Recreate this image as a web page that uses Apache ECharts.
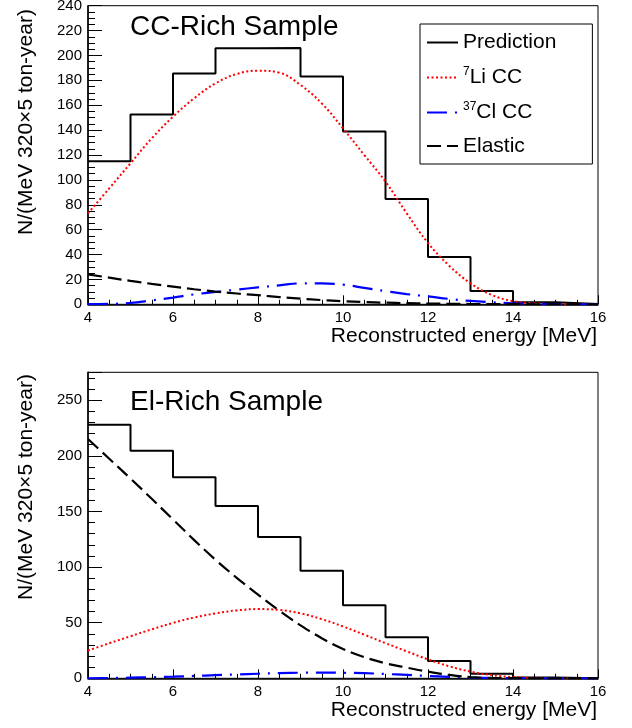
<!DOCTYPE html>
<html><head><meta charset="utf-8">
<script src="https://cdn.jsdelivr.net/npm/echarts@6/dist/echarts.min.js"></script>
<style>html,body{margin:0;padding:0;background:#fff}#c{width:632px;height:728px}</style>
</head><body><div id="c"></div>
<script>
// ---- data ----
const binEdges = [4, 5, 6, 7, 8, 9, 10, 11, 12, 13, 14, 15, 16];
const ccPrediction = [115.0, 152.5, 185.5, 205.7, 206.0, 183.0, 138.8, 84.7, 38.0, 10.7, 1.6, 0.2];
const elPrediction = [227.8, 204.5, 180.6, 154.8, 126.9, 96.7, 65.6, 36.8, 15.6, 4.2, 0.8, 0.1];

const energy = [4, 4.5, 5, 5.5, 6, 6.5, 7, 7.5, 8, 8.5, 9, 9.5, 10, 10.5, 11, 11.5, 12, 12.5, 13, 13.5, 14, 14.5, 15, 15.5, 16];
const ccLi = [73.1, 93.2, 113.3, 133.4, 150.8, 165.6, 177.6, 185.1, 187.8, 186.2, 176.3, 161.5, 141.4, 120.0, 98.6, 73.1, 49.3, 31.0, 16.9, 7.5, 2.5, 0.8, 0.3, 0.1, 0.0];
const ccCl = [0.1, 0.3, 1.1, 3.2, 5.4, 8.0, 9.9, 11.8, 13.6, 15.2, 16.8, 16.8, 15.8, 13.2, 10.6, 8.2, 6.4, 4.3, 2.7, 1.6, 0.8, 0.3, 0.1, 0.0, 0.0];
const ccElastic = [24.1, 21.4, 18.8, 16.4, 14.2, 12.1, 10.2, 8.7, 7.3, 5.8, 4.5, 3.4, 2.5, 1.8, 1.3, 0.9, 0.6, 0.4, 0.25, 0.15, 0.1, 0.05, 0.03, 0.01, 0.0];
const elLi = [25.0, 31.5, 37.8, 44.0, 49.8, 54.6, 58.3, 61.0, 62.2, 61.4, 58.4, 53.2, 46.6, 39.2, 31.6, 24.2, 17.0, 10.8, 6.0, 2.9, 1.1, 0.4, 0.15, 0.05, 0.0];
const elCl = [0.0, 0.2, 0.6, 1.0, 1.5, 2.1, 2.8, 3.5, 4.1, 4.6, 5.0, 5.1, 5.0, 4.6, 3.9, 3.0, 2.1, 1.3, 0.7, 0.3, 0.1, 0.0, 0.0, 0.0, 0.0];
const elElastic = [215.0, 197.3, 179.5, 161.3, 142.8, 124.2, 106.5, 90.3, 75.2, 60.8, 47.6, 36.0, 26.4, 19.0, 13.5, 9.6, 6.0, 3.0, 1.0, 0.3, 0.1, 0.0, 0.0, 0.0, 0.0];

const seriesNames = ['Prediction', '7Li CC', '37Cl CC', 'Elastic'];
const panelTitles = ['CC-Rich Sample', 'El-Rich Sample'];
const xTitle = 'Reconstructed energy [MeV]';
const yTitle = 'N/(MeV 320\u00d75 ton-year)';

// ---- build ----
const FONT = '"Liberation Sans", Arial, sans-serif';
function hist(vals) {
  const d = vals.map((v, i) => [binEdges[i], v]);
  d.push([binEdges[vals.length], vals[vals.length - 1]]);
  return d;
}
function curve(vals) { return vals.map((v, i) => [energy[i], v]); }

const styles = {
  'Prediction': { color: '#000000', width: 2, type: 'solid' },
  '7Li CC': { color: '#ff0000', width: 2, type: [2, 2.5] },
  '37Cl CC': { color: '#0000ff', width: 2.2, type: [20, 8, 2, 8] },
  'Elastic': { color: '#000000', width: 2.2, type: [14, 6] }
};

function mkSeries(g, pred, li, cl, el) {
  const arr = [
    { name: 'Prediction', data: hist(pred), step: 'end' },
    { name: '7Li CC', data: curve(li), smooth: 0.4 },
    { name: '37Cl CC', data: curve(cl), smooth: 0.4 },
    { name: 'Elastic', data: curve(el), smooth: 0.4 }
  ];
  return arr.map(s => Object.assign({
    type: 'line', xAxisIndex: g, yAxisIndex: g, symbol: 'none', showSymbol: false,
    lineStyle: styles[s.name], itemStyle: { color: styles[s.name].color },
    silent: true, animation: false
  }, s));
}

function mkX(g) {
  return {
    type: 'value', gridIndex: g, min: 4, max: 16, interval: 2,
    axisLine: { onZero: false, lineStyle: { color: '#000', width: 1.5 } },
    axisTick: { inside: true, length: 9, lineStyle: { color: '#000', width: 1 } },
    minorTick: { show: true, splitNumber: 4, length: 4.5, lineStyle: { color: '#000', width: 1 } },
    axisLabel: { margin: 6, fontSize: 15, color: '#000', fontFamily: FONT },
    splitLine: { show: false }
  };
}
function mkY(g, max, interval, minorSplit) {
  return {
    type: 'value', gridIndex: g, min: 0, max: max, interval: interval,
    axisLine: { show: true, onZero: false, lineStyle: { color: '#000', width: 1.5 } },
    axisTick: { show: true, inside: true, length: 14, lineStyle: { color: '#000', width: 1 } },
    minorTick: { show: true, splitNumber: minorSplit, length: 7, lineStyle: { color: '#000', width: 1 } },
    axisLabel: { margin: 6, fontSize: 15, color: '#000', fontFamily: FONT, showMaxLabel: max % interval === 0 },
    splitLine: { show: false }
  };
}
function textEl(txt, x, y, rot, align) {
  return { type: 'text', x: x, y: y, rotation: rot, silent: true,
    style: { text: txt, fontSize: 21, fontFamily: FONT, fill: '#000', align: align, verticalAlign: 'middle', textAlign: align, textVerticalAlign: 'middle' } };
}

const gridBase = { left: 88, width: 510, show: true, borderColor: '#000', borderWidth: 1, backgroundColor: 'transparent', containLabel: false, outerBoundsMode: 'none' };

const chart = echarts.init(document.getElementById('c'), null, { renderer: 'canvas' });
chart.setOption({
  animation: false,
  backgroundColor: '#fff',
  grid: [
    Object.assign({ top: 5.7, height: 298.6 }, gridBase),
    Object.assign({ top: 372.3, height: 306 }, gridBase)
  ],
  title: [
    { text: panelTitles[0], left: 130, top: 13, padding: 0, textStyle: { fontSize: 28, fontWeight: 'normal', color: '#000', fontFamily: FONT } },
    { text: panelTitles[1], left: 130, top: 388.5, padding: 0, textStyle: { fontSize: 28, fontWeight: 'normal', color: '#000', fontFamily: FONT } }
  ],
  legend: {
    orient: 'vertical', left: 420, top: 24,
    data: seriesNames,
    itemWidth: 31, itemHeight: 14, itemGap: 12.5,
    padding: [8, 36, 7.5, 6],
    borderColor: '#000', borderWidth: 1, backgroundColor: '#fff', borderRadius: 0,
    selectedMode: false,
    itemStyle: { opacity: 0 },
    formatter: function (name) {
      const m = name.match(/^(\d+)(.*)$/);
      if (m) return '{s|' + m[1] + '}{n|' + m[2] + '}';
      return '{n|' + name + '}';
    },
    textStyle: {
      fontSize: 21, color: '#000', fontFamily: FONT,
      rich: {
        n: { fontSize: 21, lineHeight: 24, fontFamily: FONT, color: '#000' },
        s: { fontSize: 12, lineHeight: 14, verticalAlign: 'top', fontFamily: FONT, color: '#000' }
      }
    }
  },
  xAxis: [mkX(0), mkX(1)],
  yAxis: [mkY(0, 240, 20, 4), mkY(1, 275, 50, 5)],
  graphic: [
    textEl(yTitle, 26, 122, Math.PI / 2, 'center'),
    textEl(yTitle, 26, 487, Math.PI / 2, 'center'),
    textEl(xTitle, 597, 336, 0, 'right'),
    textEl(xTitle, 597, 710, 0, 'right')
  ],
  series: mkSeries(0, ccPrediction, ccLi, ccCl, ccElastic).concat(mkSeries(1, elPrediction, elLi, elCl, elElastic))
});
</script></body></html>
